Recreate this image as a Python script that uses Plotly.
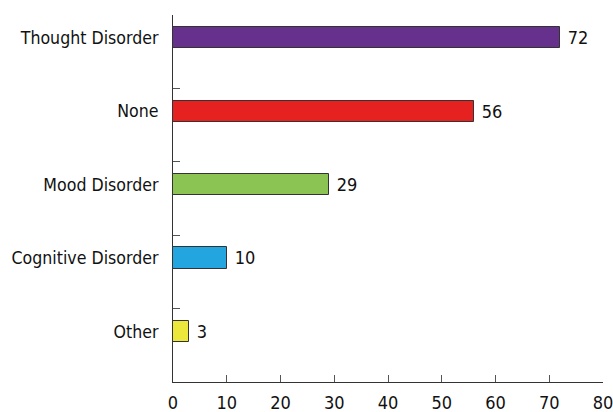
import plotly.graph_objects as go

# Diagnosis groups, listed top to bottom, with their counts
categories = ["Thought Disorder", "None", "Mood Disorder", "Cognitive Disorder", "Other"]
counts = [72, 56, 29, 10, 3]
colors = ["#66318C", "#E5221F", "#8CC453", "#23A6DF", "#ECE83B"]

# numeric slot for each bar (top bar highest)
n = len(categories)
slots = [n - 1 - i for i in range(n)]
# category separators sit a little above each bar
separators = [s + 0.31 for s in slots]

FONT = "DejaVu Sans Condensed"
SIZE = 17.6

fig = go.Figure()
fig.add_trace(go.Bar(
    x=counts,
    y=slots,
    orientation="h",
    width=0.29,
    marker=dict(color=colors, line=dict(color="#333333", width=1)),
    text=["\u00a0" + str(c) for c in counts],
    textposition="outside",
    cliponaxis=False,
    textfont=dict(family=FONT, size=18, color="#111111"),
    showlegend=False,
))
# invisible trace that carries the separator-tick axis
fig.add_trace(go.Scatter(x=[None], y=[None], yaxis="y2", showlegend=False))

fig.update_layout(
    width=613,
    height=412,
    margin=dict(l=173, r=10, t=15, b=30, autoexpand=False),
    plot_bgcolor="white",
    paper_bgcolor="white",
    font=dict(family=FONT, size=SIZE, color="#111111"),
    bargap=0,
    xaxis=dict(
        range=[0, 80],
        tickvals=list(range(0, 81, 10)),
        ticks="inside",
        ticklen=7,
        tickcolor="#555555",
        ticklabelstandoff=4,
        ticklabeloverflow="allow",
        showline=True,
        linecolor="#333333",
        linewidth=1,
        showgrid=False,
        zeroline=False,
        automargin=False,
        tickfont=dict(family=FONT, size=18, color="#111111"),
    ),
    yaxis=dict(
        range=[-0.69, 4.31],
        tickvals=slots,
        ticktext=categories,
        ticks="",
        ticklabelstandoff=10,
        showline=True,
        linecolor="#333333",
        linewidth=1,
        showgrid=False,
        zeroline=False,
        automargin=False,
        tickfont=dict(family=FONT, size=SIZE, color="#111111"),
    ),
    yaxis2=dict(
        overlaying="y",
        anchor="x",
        side="left",
        range=[-0.69, 4.31],
        tickvals=separators,
        ticks="inside",
        ticklen=7,
        tickcolor="#555555",
        showticklabels=False,
        showline=False,
        showgrid=False,
        zeroline=False,
        automargin=False,
    ),
)

fig.write_html("out.html")
